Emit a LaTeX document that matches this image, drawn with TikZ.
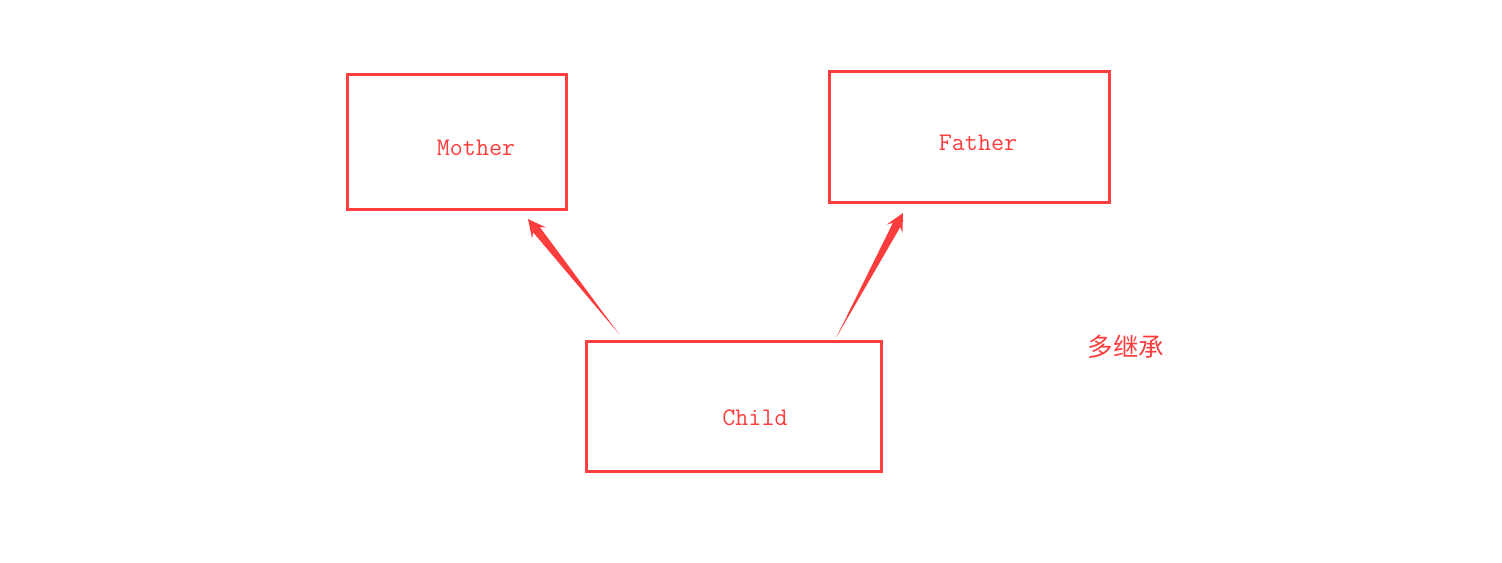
\documentclass[tikz,border=0pt]{standalone}
\usepackage{fontspec}
\newfontfamily\cjk{Noto Sans CJK SC}
\usetikzlibrary{calc}
\usetikzlibrary{positioning}
\definecolor{boxred}{RGB}{252,61,61}

\begin{document}
\begin{tikzpicture}[x=0.02cm, y=0.02cm,
  classbox/.style={draw=boxred, line width=1.7pt, inner sep=0pt},
  classname/.style={text=boxred, font=\ttfamily\fontsize{14.4}{16}\selectfont, inner sep=0pt}]
\useasboundingbox (0,0) rectangle (1502,562);
% class boxes
\node[classbox, minimum width=4.4cm, minimum height=2.72cm] (mother) at (457,420) {};
\node[classbox, minimum width=5.62cm, minimum height=2.64cm] (father) at (969.5,425) {};
\node[classbox, minimum width=5.92cm, minimum height=2.62cm] (child) at (734,155.5) {};
\node[classname] (mothertxt) at ([shift={(19,-6)}]mother.center) {Mother};
\node[classname] (fathertxt) at ([shift={(8.5,-6)}]father.center) {Father};
\node[classname] (childtxt) at ([shift={(21,-11)}]child.center) {Child};
\node[text=boxred, font=\cjk\fontsize{14.5}{16}\selectfont, inner sep=0pt] (note) at (1126,215) {多继承};
% tapered arrows
\coordinate (mtail) at (619,228);
\coordinate (mtip) at (528,343);
\coordinate (ftail) at (836,224);
\coordinate (ftip) at (903,349);
\foreach \t/\p in {mtail/mtip, ftail/ftip} {
 \coordinate (h) at ($(\p)!0.27cm!(\t)$);
 \coordinate (b) at ($(\p)!0.36cm!(\t)$);
 \fill[boxred] (\t) -- ($(h)!0.085cm!90:(\p)$) -- ($(b)!0.18cm!90:(\p)$) -- (\p)
   -- ($(b)!0.18cm!-90:(\p)$) -- ($(h)!0.085cm!-90:(\p)$) -- cycle;
}
\end{tikzpicture}
\end{document}
